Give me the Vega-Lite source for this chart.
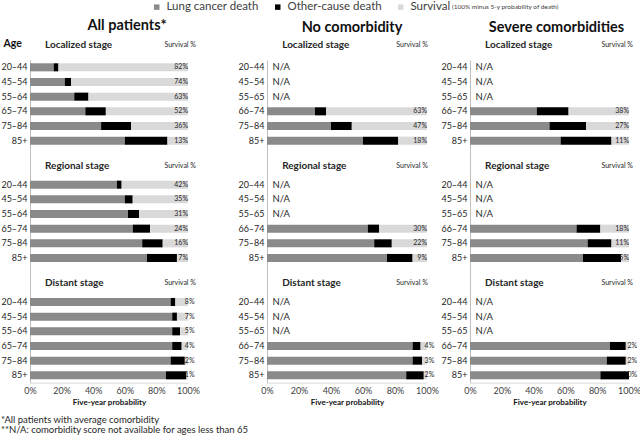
{
  "$schema": "https://vega.github.io/schema/vega-lite/v6.json",
  "background": "white",
  "padding": {"left": 0, "right": 0, "top": 1, "bottom": 2},
  "autosize": {"type": "pad"},
  "config": {
    "font": "Lato",
    "view": {"stroke": null},
    "axis": {"grid": false, "ticks": false},
    "axisX": {"values": [0,20,40,60,80,100], "labelExpr": "datum.value + '%'", "labelFlush": false, "labelOverlap": false, "labelFontSize": 9, "labelColor": "#404040", "labelPadding": 4, "domainColor": "#d9d9d9", "titleFontSize": 8, "titleFontWeight": "bold", "titlePadding": 3, "titleColor": "#111111"},
    "axisY": {"labelFontSize": 9, "labelPadding": 3, "labelColor": "#262626", "domainColor": "#bfbfbf"},
    "text": {"color": "#262626"},
    "legend": {"orient": "none", "legendX": 121, "legendY": -59, "direction": "horizontal", "titleOrient": "right", "titleFontSize": 6.5, "titleFontWeight": "normal", "titlePadding": 2, "titleColor": "#404040", "symbolType": "square", "symbolSize": 30, "symbolStrokeWidth": 0, "labelFontSize": 11.5, "labelColor": "#404040", "columnPadding": 13, "labelOffset": 4}
  },
  "datasets": {
    "bars": [
      {"p": "A", "row": "L1", "lung": 15, "other": 3, "surv": 82},
      {"p": "A", "row": "L2", "lung": 22, "other": 4, "surv": 74},
      {"p": "A", "row": "L3", "lung": 28, "other": 9, "surv": 63},
      {"p": "A", "row": "L4", "lung": 35, "other": 13, "surv": 52},
      {"p": "A", "row": "L5", "lung": 45, "other": 19, "surv": 36},
      {"p": "A", "row": "L6", "lung": 60, "other": 27, "surv": 13},
      {"p": "A", "row": "R1", "lung": 55, "other": 3, "surv": 42},
      {"p": "A", "row": "R2", "lung": 60, "other": 5, "surv": 35},
      {"p": "A", "row": "R3", "lung": 62, "other": 7, "surv": 31},
      {"p": "A", "row": "R4", "lung": 65, "other": 11, "surv": 24},
      {"p": "A", "row": "R5", "lung": 71, "other": 13, "surv": 16},
      {"p": "A", "row": "R6", "lung": 74, "other": 19, "surv": 7},
      {"p": "A", "row": "D1", "lung": 89, "other": 3, "surv": 8},
      {"p": "A", "row": "D2", "lung": 90, "other": 3, "surv": 7},
      {"p": "A", "row": "D3", "lung": 90, "other": 5, "surv": 5},
      {"p": "A", "row": "D4", "lung": 90, "other": 6, "surv": 4},
      {"p": "A", "row": "D5", "lung": 89, "other": 9, "surv": 2},
      {"p": "A", "row": "D6", "lung": 86, "other": 13, "surv": 1},
      {"p": "N", "row": "L1", "lung": null, "other": null, "surv": null},
      {"p": "N", "row": "L2", "lung": null, "other": null, "surv": null},
      {"p": "N", "row": "L3", "lung": null, "other": null, "surv": null},
      {"p": "N", "row": "L4", "lung": 30, "other": 7, "surv": 63},
      {"p": "N", "row": "L5", "lung": 40, "other": 13, "surv": 47},
      {"p": "N", "row": "L6", "lung": 60, "other": 22, "surv": 18},
      {"p": "N", "row": "R1", "lung": null, "other": null, "surv": null},
      {"p": "N", "row": "R2", "lung": null, "other": null, "surv": null},
      {"p": "N", "row": "R3", "lung": null, "other": null, "surv": null},
      {"p": "N", "row": "R4", "lung": 63, "other": 7, "surv": 30},
      {"p": "N", "row": "R5", "lung": 67, "other": 11, "surv": 22},
      {"p": "N", "row": "R6", "lung": 75, "other": 16, "surv": 9},
      {"p": "N", "row": "D1", "lung": null, "other": null, "surv": null},
      {"p": "N", "row": "D2", "lung": null, "other": null, "surv": null},
      {"p": "N", "row": "D3", "lung": null, "other": null, "surv": null},
      {"p": "N", "row": "D4", "lung": 91, "other": 5, "surv": 4},
      {"p": "N", "row": "D5", "lung": 91, "other": 6, "surv": 3},
      {"p": "N", "row": "D6", "lung": 87, "other": 11, "surv": 2},
      {"p": "S", "row": "L1", "lung": null, "other": null, "surv": null},
      {"p": "S", "row": "L2", "lung": null, "other": null, "surv": null},
      {"p": "S", "row": "L3", "lung": null, "other": null, "surv": null},
      {"p": "S", "row": "L4", "lung": 42, "other": 20, "surv": 38},
      {"p": "S", "row": "L5", "lung": 50, "other": 23, "surv": 27},
      {"p": "S", "row": "L6", "lung": 57, "other": 32, "surv": 11},
      {"p": "S", "row": "R1", "lung": null, "other": null, "surv": null},
      {"p": "S", "row": "R2", "lung": null, "other": null, "surv": null},
      {"p": "S", "row": "R3", "lung": null, "other": null, "surv": null},
      {"p": "S", "row": "R4", "lung": 67, "other": 15, "surv": 18},
      {"p": "S", "row": "R5", "lung": 74, "other": 15, "surv": 11},
      {"p": "S", "row": "R6", "lung": 71, "other": 24, "surv": 5},
      {"p": "S", "row": "D1", "lung": null, "other": null, "surv": null},
      {"p": "S", "row": "D2", "lung": null, "other": null, "surv": null},
      {"p": "S", "row": "D3", "lung": null, "other": null, "surv": null},
      {"p": "S", "row": "D4", "lung": 88, "other": 10, "surv": 2},
      {"p": "S", "row": "D5", "lung": 86, "other": 12, "surv": 2},
      {"p": "S", "row": "D6", "lung": 82, "other": 18, "surv": 0}
    ],
    "heads": [
      {"row": "L1", "stage": "Localized stage"},
      {"row": "R1", "stage": "Regional stage"},
      {"row": "D1", "stage": "Distant stage"}
    ]
  },
  "title": {
    "text": ["*All patients with average comorbidity", "**N/A: comorbidity score not available for ages less than 65"],
    "orient": "bottom", "anchor": "start", "frame": "bounds",
    "fontSize": 9.5, "fontWeight": "normal", "lineHeight": 10.5, "offset": 8, "color": "#262626"
  },
  "bounds": "flush",
  "spacing": 79,
  "hconcat": [
    {
      "width": 158, "height": 322.67,
      "title": {"text": "All patients*", "fontSize": 14.5, "fontWeight": "bold", "dx": 18, "offset": 5, "color": "#111111"},
      "encoding": {
        "y": {"field": "row", "type": "nominal",
          "scale": {"domain": ["L1","L2","L3","L4","L5","L6","g1","g2","R1","R2","R3","R4","R5","R6","g3","g4","D1","D2","D3","D4","D5","D6"], "paddingInner": 0.45},
          "axis": {"title": "Age", "titleAngle": 0, "titleAlign": "left", "titleBaseline": "middle", "titleX": -27, "titleY": -16, "titleFontSize": 10.5, "titleFontWeight": "bold", "titleColor": "#111111",
            "labelExpr": "indexof('LRD', substring(datum.value,0,1)) >= 0 ? ['20–44','45–54','55–64','65–74','75–84','85+'][toNumber(substring(datum.value,1,2))-1] : ''"}}
      },
      "layer": [
        {
          "data": {"name": "bars"},
          "transform": [{"filter": "datum.p == 'A' && datum.lung != null"}, {"fold": ["lung", "other", "surv"], "as": ["cause", "pct"]}],
          "mark": {"type": "bar"},
          "encoding": {
            "x": {"field": "pct", "type": "quantitative", "stack": "zero", "scale": {"domain": [0, 100]}, "axis": {"title": "Five-year probability"}},
            "color": {"field": "cause", "type": "nominal", "title": "(100% minus 5-y probability of death)",
              "scale": {"domain": ["lung", "other", "surv"], "range": ["#8a8a8a", "#000000", "#d9d9d9"]},
              "legend": {"labelExpr": "datum.value == 'lung' ? 'Lung cancer death' : datum.value == 'other' ? 'Other-cause death' : 'Survival'"}},
            "order": {"field": "cause", "type": "ordinal", "sort": "ascending"}
          }
        },
        {
          "data": {"name": "bars"},
          "transform": [{"filter": "datum.p == 'A' && datum.lung != null && substring(datum.row,0,1) != 'D'"}, {"calculate": "datum.surv + '%'", "as": "lab"}],
          "mark": {"type": "text", "align": "right", "baseline": "middle", "fontSize": 7},
          "encoding": {"x": {"datum": 100, "type": "quantitative", "scale": {"domain": [0, 100]}}, "text": {"field": "lab"}}
        },
        {
          "data": {"name": "bars"},
          "transform": [{"filter": "datum.p == 'A' && datum.lung != null && substring(datum.row,0,1) == 'D'"}, {"calculate": "datum.surv + '%'", "as": "lab"}],
          "mark": {"type": "text", "align": "left", "baseline": "middle", "fontSize": 7},
          "encoding": {"x": {"datum": 98, "type": "quantitative", "scale": {"domain": [0, 100]}}, "text": {"field": "lab"}}
        },
        {
          "data": {"name": "heads"},
          "transform": [{"filter": "datum.row == 'L1'"}],
          "mark": {"type": "text", "align": "left", "baseline": "middle", "fontSize": 10, "fontWeight": "bold", "dy": -22},
          "encoding": {"x": {"datum": 9.5, "type": "quantitative", "scale": {"domain": [0, 100]}}, "text": {"field": "stage"}}
        },
        {
          "data": {"name": "heads"},
          "transform": [{"filter": "datum.row != 'L1'"}],
          "mark": {"type": "text", "align": "left", "baseline": "middle", "fontSize": 10, "fontWeight": "bold", "dy": -19},
          "encoding": {"x": {"datum": 9.5, "type": "quantitative", "scale": {"domain": [0, 100]}}, "text": {"field": "stage"}}
        },
        {
          "data": {"name": "heads"},
          "transform": [{"filter": "datum.row == 'L1'"}],
          "mark": {"type": "text", "align": "right", "baseline": "middle", "fontSize": 7, "dy": -22},
          "encoding": {"x": {"datum": 105, "type": "quantitative", "scale": {"domain": [0, 100]}}, "text": {"value": "Survival %"}}
        },
        {
          "data": {"name": "heads"},
          "transform": [{"filter": "datum.row != 'L1'"}],
          "mark": {"type": "text", "align": "right", "baseline": "middle", "fontSize": 7, "dy": -19},
          "encoding": {"x": {"datum": 105, "type": "quantitative", "scale": {"domain": [0, 100]}}, "text": {"value": "Survival %"}}
        }
      ]
    },
    {
      "bounds": "flush",
      "spacing": 43,
      "hconcat": [
        {
          "width": 160, "height": 322.67,
          "title": {"text": "No comorbidity", "fontSize": 14.5, "fontWeight": "bold", "dx": 5, "offset": 5, "color": "#111111"},
          "encoding": {
            "y": {"field": "row", "type": "nominal",
              "scale": {"domain": ["L1","L2","L3","L4","L5","L6","g1","g2","R1","R2","R3","R4","R5","R6","g3","g4","D1","D2","D3","D4","D5","D6"], "paddingInner": 0.45},
              "axis": {"title": null,
                "labelExpr": "indexof('LRD', substring(datum.value,0,1)) >= 0 ? ['20–44','45–54','55–65','66–74','75–84','85+'][toNumber(substring(datum.value,1,2))-1] : ''"}}
          },
          "layer": [
            {
              "data": {"name": "bars"},
              "transform": [{"filter": "datum.p == 'N' && datum.lung != null"}, {"fold": ["lung", "other", "surv"], "as": ["cause", "pct"]}],
              "mark": {"type": "bar"},
              "encoding": {
                "x": {"field": "pct", "type": "quantitative", "stack": "zero", "scale": {"domain": [0, 100]}, "axis": {"title": "Five-year probability"}},
                "color": {"field": "cause", "type": "nominal", "title": "(100% minus 5-y probability of death)",
                  "scale": {"domain": ["lung", "other", "surv"], "range": ["#8a8a8a", "#000000", "#d9d9d9"]},
                  "legend": {"labelExpr": "datum.value == 'lung' ? 'Lung cancer death' : datum.value == 'other' ? 'Other-cause death' : 'Survival'"}},
                "order": {"field": "cause", "type": "ordinal", "sort": "ascending"}
              }
            },
            {
              "data": {"name": "bars"},
              "transform": [{"filter": "datum.p == 'N' && datum.lung == null"}],
              "mark": {"type": "text", "align": "left", "baseline": "middle", "fontSize": 9.5},
              "encoding": {"x": {"datum": 3.5, "type": "quantitative", "scale": {"domain": [0, 100]}}, "text": {"value": "N/A"}}
            },
            {
              "data": {"name": "bars"},
              "transform": [{"filter": "datum.p == 'N' && datum.lung != null && substring(datum.row,0,1) != 'D'"}, {"calculate": "datum.surv + '%'", "as": "lab"}],
              "mark": {"type": "text", "align": "right", "baseline": "middle", "fontSize": 7},
              "encoding": {"x": {"datum": 100, "type": "quantitative", "scale": {"domain": [0, 100]}}, "text": {"field": "lab"}}
            },
            {
              "data": {"name": "bars"},
              "transform": [{"filter": "datum.p == 'N' && datum.lung != null && substring(datum.row,0,1) == 'D'"}, {"calculate": "datum.surv + '%'", "as": "lab"}],
              "mark": {"type": "text", "align": "left", "baseline": "middle", "fontSize": 7},
              "encoding": {"x": {"datum": 98.5, "type": "quantitative", "scale": {"domain": [0, 100]}}, "text": {"field": "lab"}}
            },
            {
              "data": {"name": "heads"},
              "transform": [{"filter": "datum.row == 'L1'"}],
              "mark": {"type": "text", "align": "left", "baseline": "middle", "fontSize": 10, "fontWeight": "bold", "dy": -22},
              "encoding": {"x": {"datum": 9.5, "type": "quantitative", "scale": {"domain": [0, 100]}}, "text": {"field": "stage"}}
            },
            {
              "data": {"name": "heads"},
              "transform": [{"filter": "datum.row != 'L1'"}],
              "mark": {"type": "text", "align": "left", "baseline": "middle", "fontSize": 10, "fontWeight": "bold", "dy": -19},
              "encoding": {"x": {"datum": 9.5, "type": "quantitative", "scale": {"domain": [0, 100]}}, "text": {"field": "stage"}}
            },
            {
              "data": {"name": "heads"},
              "transform": [{"filter": "datum.row == 'L1'"}],
              "mark": {"type": "text", "align": "right", "baseline": "middle", "fontSize": 7, "dy": -22},
              "encoding": {"x": {"datum": 100.5, "type": "quantitative", "scale": {"domain": [0, 100]}}, "text": {"value": "Survival %"}}
            },
            {
              "data": {"name": "heads"},
              "transform": [{"filter": "datum.row != 'L1'"}],
              "mark": {"type": "text", "align": "right", "baseline": "middle", "fontSize": 7, "dy": -19},
              "encoding": {"x": {"datum": 100.5, "type": "quantitative", "scale": {"domain": [0, 100]}}, "text": {"value": "Survival %"}}
            }
          ]
        },
        {
          "width": 159, "height": 322.67,
          "title": {"text": "Severe comorbidities", "fontSize": 14.5, "fontWeight": "bold", "dx": 7, "offset": 5, "color": "#111111"},
          "encoding": {
            "y": {"field": "row", "type": "nominal",
              "scale": {"domain": ["L1","L2","L3","L4","L5","L6","g1","g2","R1","R2","R3","R4","R5","R6","g3","g4","D1","D2","D3","D4","D5","D6"], "paddingInner": 0.45},
              "axis": {"title": null,
                "labelExpr": "indexof('LRD', substring(datum.value,0,1)) >= 0 ? ['20–44','45–54','55–65','66–74','75–84','85+'][toNumber(substring(datum.value,1,2))-1] : ''"}}
          },
          "layer": [
            {
              "data": {"name": "bars"},
              "transform": [{"filter": "datum.p == 'S' && datum.lung != null"}, {"fold": ["lung", "other", "surv"], "as": ["cause", "pct"]}],
              "mark": {"type": "bar"},
              "encoding": {
                "x": {"field": "pct", "type": "quantitative", "stack": "zero", "scale": {"domain": [0, 100]}, "axis": {"title": "Five-year probability"}},
                "color": {"field": "cause", "type": "nominal", "title": "(100% minus 5-y probability of death)",
                  "scale": {"domain": ["lung", "other", "surv"], "range": ["#8a8a8a", "#000000", "#d9d9d9"]},
                  "legend": {"labelExpr": "datum.value == 'lung' ? 'Lung cancer death' : datum.value == 'other' ? 'Other-cause death' : 'Survival'"}},
                "order": {"field": "cause", "type": "ordinal", "sort": "ascending"}
              }
            },
            {
              "data": {"name": "bars"},
              "transform": [{"filter": "datum.p == 'S' && datum.lung == null"}],
              "mark": {"type": "text", "align": "left", "baseline": "middle", "fontSize": 9.5},
              "encoding": {"x": {"datum": 3.5, "type": "quantitative", "scale": {"domain": [0, 100]}}, "text": {"value": "N/A"}}
            },
            {
              "data": {"name": "bars"},
              "transform": [{"filter": "datum.p == 'S' && datum.lung != null && substring(datum.row,0,1) != 'D'"}, {"calculate": "datum.surv + '%'", "as": "lab"}],
              "mark": {"type": "text", "align": "right", "baseline": "middle", "fontSize": 7},
              "encoding": {"x": {"datum": 100, "type": "quantitative", "scale": {"domain": [0, 100]}}, "text": {"field": "lab"}}
            },
            {
              "data": {"name": "bars"},
              "transform": [{"filter": "datum.p == 'S' && datum.lung != null && substring(datum.row,0,1) == 'D'"}, {"calculate": "datum.surv + '%'", "as": "lab"}],
              "mark": {"type": "text", "align": "left", "baseline": "middle", "fontSize": 7},
              "encoding": {"x": {"datum": 99, "type": "quantitative", "scale": {"domain": [0, 100]}}, "text": {"field": "lab"}}
            },
            {
              "data": {"name": "heads"},
              "transform": [{"filter": "datum.row == 'L1'"}],
              "mark": {"type": "text", "align": "left", "baseline": "middle", "fontSize": 10, "fontWeight": "bold", "dy": -22},
              "encoding": {"x": {"datum": 9.5, "type": "quantitative", "scale": {"domain": [0, 100]}}, "text": {"field": "stage"}}
            },
            {
              "data": {"name": "heads"},
              "transform": [{"filter": "datum.row != 'L1'"}],
              "mark": {"type": "text", "align": "left", "baseline": "middle", "fontSize": 10, "fontWeight": "bold", "dy": -19},
              "encoding": {"x": {"datum": 9.5, "type": "quantitative", "scale": {"domain": [0, 100]}}, "text": {"field": "stage"}}
            },
            {
              "data": {"name": "heads"},
              "transform": [{"filter": "datum.row == 'L1'"}],
              "mark": {"type": "text", "align": "right", "baseline": "middle", "fontSize": 7, "dy": -22},
              "encoding": {"x": {"datum": 102.5, "type": "quantitative", "scale": {"domain": [0, 100]}}, "text": {"value": "Survival %"}}
            },
            {
              "data": {"name": "heads"},
              "transform": [{"filter": "datum.row != 'L1'"}],
              "mark": {"type": "text", "align": "right", "baseline": "middle", "fontSize": 7, "dy": -19},
              "encoding": {"x": {"datum": 102.5, "type": "quantitative", "scale": {"domain": [0, 100]}}, "text": {"value": "Survival %"}}
            }
          ]
        }
      ]
    }
  ]
}
